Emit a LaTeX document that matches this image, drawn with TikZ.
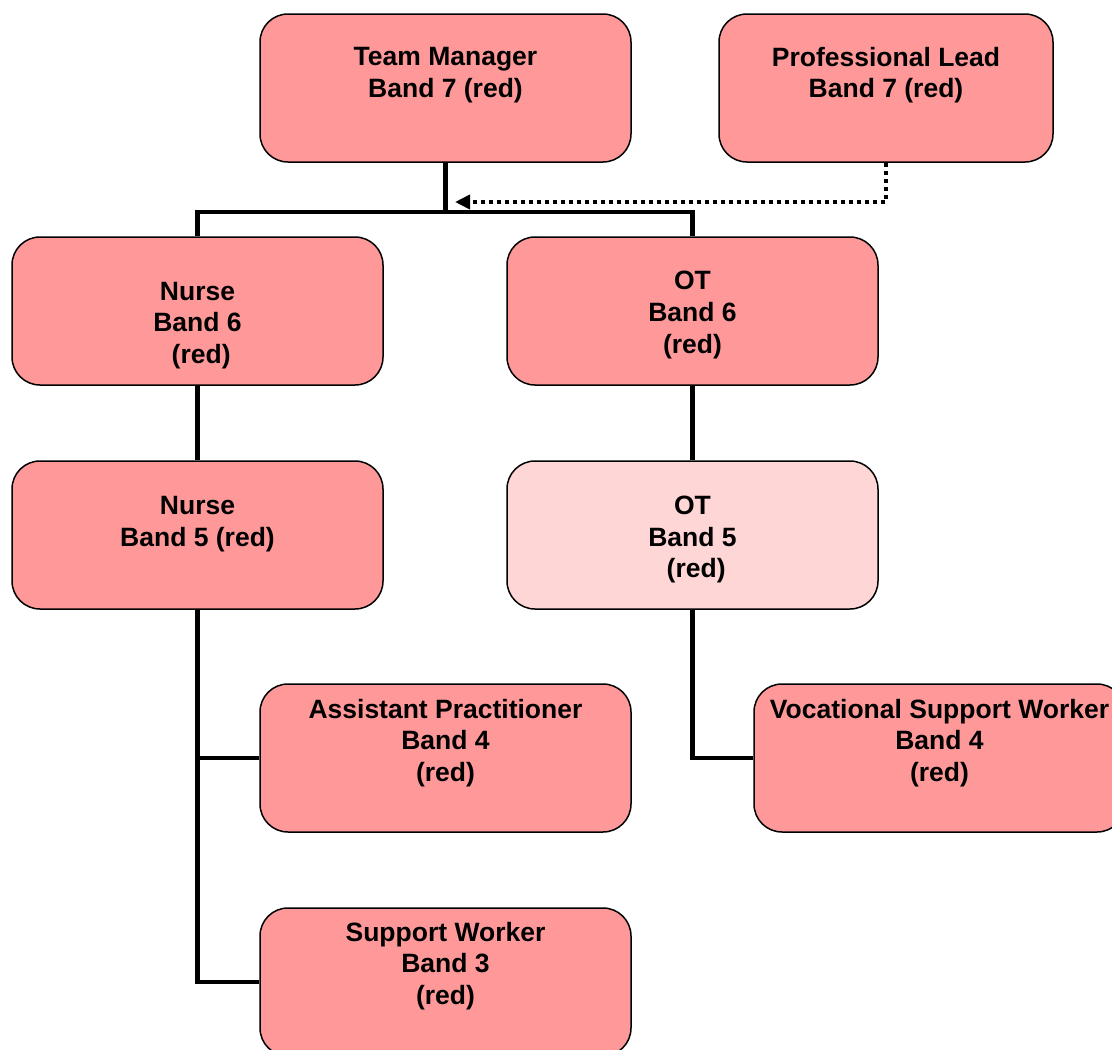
\documentclass[tikz,border=0pt]{standalone}
\usepackage{fontspec}
\setmainfont{Liberation Sans}
\usetikzlibrary{arrows.meta}
\definecolor{boxred}{RGB}{255,153,153}
\definecolor{boxlight}{RGB}{255,214,214}
\begin{document}
\begin{tikzpicture}[x=1pt,y=-1pt,
  box/.style={draw=black,line width=1.5pt,fill=boxred,rounded corners=28pt,
    minimum width=371pt,minimum height=148pt,inner sep=0pt},
  lightbox/.style={box,fill=boxlight},
  txt/.style={align=center,inner sep=0pt,font=\fontsize{26.5}{31.7}\selectfont\bfseries},
  conn/.style={line width=4.5pt,line join=miter},
  dotconn/.style={line width=4pt,dash pattern=on 4pt off 4pt,-{Triangle[length=15pt,width=14pt]}}]
\useasboundingbox (0,0) rectangle (1112,1050);
\clip (0,0) rectangle (1112,1050);
% boxes
\node[box] (tm) at (445.5,88) {};
\node[box,minimum width=334pt] (pl) at (886,88) {};
\node[box] (n6) at (197.5,311) {};
\node[box] (ot6) at (692.5,311) {};
\node[box] (n5) at (197.5,535) {};
\node[lightbox] (ot5) at (692.5,535) {};
\node[box] (ap) at (445.5,758) {};
\node[box] (vsw) at (939.5,758) {};
\node[box] (sw) at (445.5,982) {};
% texts
\node[txt] (tmt) at (445.5,75) {Team Manager\\Band 7 (red)};
\node[txt] (plt) at (886,75) {Professional Lead\\Band 7 (red)};
\node[txt] (n6t) at (197.5,325.5) {Nurse\\Band 6\\\hspace*{0.278em}(red)};
\node[txt] (ot6t) at (692.5,315) {OT\\Band 6\\(red)};
\node[txt] (n5t) at (197.5,524) {Nurse\\Band 5 (red)};
\node[txt] (ot5t) at (692.5,539.5) {OT\\Band 5\\\hspace*{0.278em}(red)};
\node[txt] (apt) at (445.5,743) {Assistant Practitioner\\Band 4\\(red)};
\node[txt] (vswt) at (939.5,743) {Vocational Support Worker\\Band 4\\(red)};
\node[txt] (swt) at (445.5,966) {Support Worker\\Band 3\\(red)};
% connectors
\coordinate (bus) at (445.5,212);
\coordinate (tip) at (455,202);
\draw[conn] (tm.south) -- (bus);
\draw[conn] (n6.north) |- (bus) -| (ot6.north);
\draw[conn] (n6.south) -- (n5.north);
\draw[conn] (ot6.south) -- (ot5.north);
\draw[conn] (n5.south) |- (ap.west);
\draw[conn] (n5.south) |- (sw.west);
\draw[conn] (ot5.south) |- (vsw.west);
\draw[dotconn] (pl.south) |- (tip);
\end{tikzpicture}
\end{document}
